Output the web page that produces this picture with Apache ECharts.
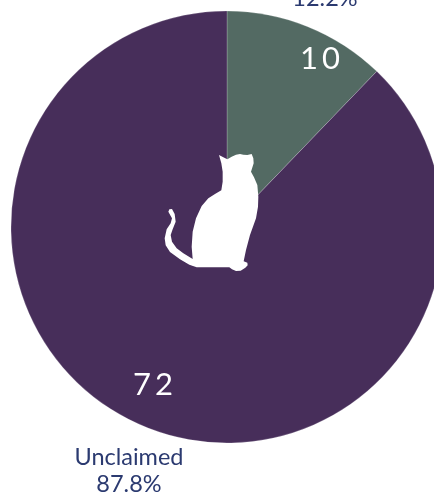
<!DOCTYPE html>
<html><head><meta charset="utf-8">
<style>html,body{margin:0;padding:0;background:#fff}#c{width:434px;height:493px}</style>
<script src="https://cdn.jsdelivr.net/npm/echarts@6/dist/echarts.min.js"></script>
</head><body><div id="c"></div>
<script>
const categories = ['', 'Unclaimed'];
const values = [10, 72];
const shares = ['12.2%', '87.8%'];
const colors = ['#536A63', '#472E5A'];
const catOutline = [[207,45],[220,52],[232,58],[245,50],[258,44],[270,42],[280,44],[292,45],[305,42],[310,55],[311,70],[303,95],[312,112],[322,135],[325,170],[324,200],[318,235],[300,285],[288,330],[281,364],[292,368],[293,376],[286,383],[272,392],[258,393],[246,388],[238,382],[190,382],[140,382],[118,374],[90,358],[60,336],[47,316],[44,295],[50,268],[62,250],[66,235],[55,215],[58,208],[66,207],[74,222],[77,245],[68,268],[62,285],[66,305],[80,325],[100,340],[128,357],[125,320],[128,275],[138,235],[155,198],[175,175],[195,162],[214,151],[218,125],[218,95],[214,70]];
const chart = echarts.init(document.getElementById('c'), null, {renderer: 'canvas'});
const pieData = categories.map((n, i) => ({name: n, value: values[i], itemStyle: {color: colors[i]}}));
chart.setOption({
  animation: false,
  series: [
    {
      type: 'pie', center: [227, 227], radius: [0, 216], startAngle: 90, clockwise: true,
      data: pieData, silent: true,
      itemStyle: {borderColor: '#ffffff', borderWidth: 0.2},
      label: {position: 'inside', color: '#fff', fontFamily: 'Lato', fontSize: 31, fontWeight: 400,
        formatter: p => String(p.value).split('').join('\u2009')},
      labelLine: {show: false},
      labelLayout: p => p.dataIndex === 0 ? {x: 320, y: 59, align: 'center', verticalAlign: 'middle'} : {x: 153, y: 385, align: 'center', verticalAlign: 'middle'}
    },
    {
      type: 'pie', center: [227, 227], radius: [0, 216], startAngle: 90, clockwise: true,
      data: pieData.map(d => ({name: d.name, value: d.value, itemStyle: {color: 'transparent', borderWidth: 0}})),
      silent: true,
      label: {position: 'outside', color: '#2B3A70', fontFamily: 'Lato', fontSize: 23.5, lineHeight: 27, align: 'center', overflow: 'none',
        formatter: p => (p.name ? p.name + '\n' : '') + shares[p.dataIndex]},
      labelLine: {show: false},
      labelLayout: p => p.dataIndex === 0 ? {x: 325, y: -2, align: 'center', verticalAlign: 'middle'} : {x: 129, y: 471, align: 'center', verticalAlign: 'middle'}
    }
  ],
  graphic: [{
    type: 'polygon', x: 150, y: 140, scaleX: 1/3, scaleY: 1/3, silent: true, z: 100,
    shape: {points: catOutline},
    style: {fill: '#fff'}
  }]
});
</script></body></html>
